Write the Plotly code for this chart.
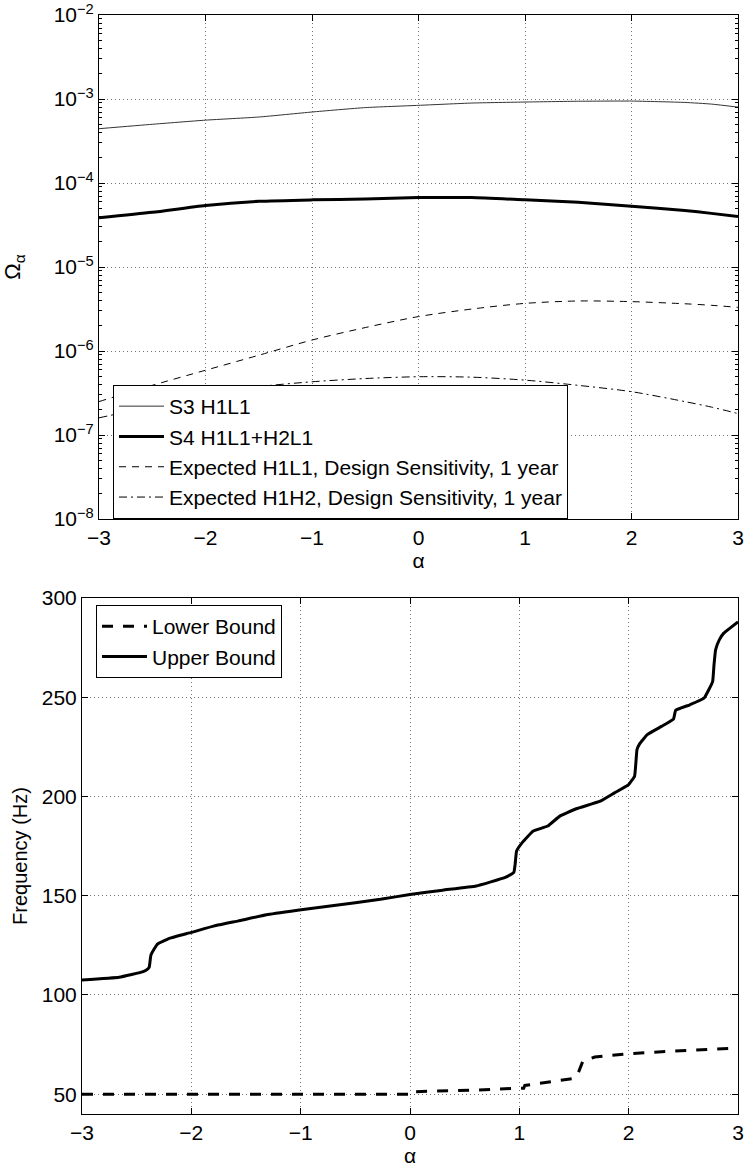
import plotly.graph_objects as go

# ---------------- data ----------------
alpha_top = [-3, -2.5, -2, -1.5, -1, -0.5, 0, 0.5, 1, 1.5, 2, 2.5, 2.75, 3]
s3_h1l1 = [4.43e-4, 5.0e-4, 5.6e-4, 6.1e-4, 7.0e-4, 7.9e-4, 8.4e-4, 8.95e-4,
           9.2e-4, 9.4e-4, 9.45e-4, 9.1e-4, 8.7e-4, 8.0e-4]
s4_h1l1_h2l1 = [3.86e-5, 4.48e-5, 5.4e-5, 6.05e-5, 6.3e-5, 6.45e-5, 6.7e-5,
                6.7e-5, 6.3e-5, 5.9e-5, 5.3e-5, 4.7e-5, 4.35e-5, 3.98e-5]
exp_h1l1 = [2.5e-7, 3.9e-7, 5.9e-7, 8.9e-7, 1.35e-6, 1.9e-6, 2.57e-6, 3.16e-6,
            3.69e-6, 3.94e-6, 3.87e-6, 3.65e-6, 3.5e-6, 3.31e-6]
exp_h1h2 = [1.6e-7, 2.2e-7, 3.0e-7, 3.76e-7, 4.3e-7, 4.7e-7, 4.94e-7, 4.88e-7,
            4.5e-7, 3.9e-7, 3.28e-7, 2.5e-7, 2.15e-7, 1.8e-7]

upper_alpha = [-3, -2.66, -2.44, -2.40, -2.385, -2.37, -2.34, -2.31, -2.2, -2.0,
               -1.79, -1.57, -1.3, -0.96, -0.5, -0.27, 0.0, 0.3, 0.605, 0.866,
               0.93, 0.95, 0.962, 0.975, 1.03, 1.127, 1.26, 1.37, 1.52, 1.74,
               1.87, 2.0, 2.054, 2.066, 2.076, 2.1, 2.17, 2.30, 2.41, 2.43,
               2.56, 2.69, 2.768, 2.78, 2.795, 2.83, 2.87, 3.0]
upper_bound = [107.5, 108.9, 111.7, 113.0, 114.0, 120.0, 123.1, 125.6, 128.5, 131.5,
               134.8, 137.3, 140.5, 143.2, 146.5, 148.2, 150.6, 152.8, 154.9, 159.1,
               160.9, 161.8, 166.0, 172.5, 177.0, 182.6, 185.1, 190.1, 193.8, 197.6,
               201.8, 206.0, 210.2, 217.0, 223.6, 226.5, 231.2, 235.3, 239.0, 243.4,
               246.2, 249.6, 257.9, 266.0, 273.9, 279.0, 282.3, 288.0]

lower_alpha = [-3, 0.0, 0.005, 0.6, 1.0, 1.04, 1.05, 1.26, 1.48, 1.53, 1.56,
               1.58, 1.69, 2.0, 2.35, 3.0]
lower_bound = [50, 50, 51.2, 52, 53, 53, 54.4, 56.1, 57.8, 59.5, 64,
               66.5, 68.7, 70.4, 71.5, 73.2]

x_ticks = [-3, -2, -1, 0, 1, 2, 3]
x_ticktext = ["−3", "−2", "−1", "0", "1", "2", "3"]
omega_ticks = [1e-8, 1e-7, 1e-6, 1e-5, 1e-4, 1e-3, 1e-2]
omega_ticktext = ["10<sup>−8</sup>", "10<sup>−7</sup>", "10<sup>−6</sup>",
                  "10<sup>−5</sup>", "10<sup>−4</sup>", "10<sup>−3</sup>",
                  "10<sup>−2</sup>"]
freq_ticks = [50, 100, 150, 200, 250, 300]
freq_ticktext = ["50", "100", "150", "200", "250", "300"]

# ---------------- figure ----------------
W, H = 746, 1171
FONT = "Liberation Sans, Arial, Helvetica, sans-serif"
FS = 21
GRID = "rgba(0,0,0,0.55)"

fig = go.Figure()

fig.add_trace(go.Scatter(x=alpha_top, y=s3_h1l1, mode="lines", name="S3 H1L1",
                         line=dict(color="#333333", width=1, shape="spline", smoothing=0.5),
                         xaxis="x", yaxis="y", legend="legend"))
fig.add_trace(go.Scatter(x=alpha_top, y=s4_h1l1_h2l1, mode="lines", name="S4 H1L1+H2L1",
                         line=dict(color="black", width=3, shape="spline", smoothing=0.6),
                         xaxis="x", yaxis="y", legend="legend"))
fig.add_trace(go.Scatter(x=alpha_top, y=exp_h1l1, mode="lines",
                         name="Expected H1L1, Design Sensitivity, 1 year",
                         line=dict(color="black", width=1, dash="7px,6px", shape="spline", smoothing=0.8),
                         xaxis="x", yaxis="y", legend="legend"))
fig.add_trace(go.Scatter(x=alpha_top, y=exp_h1h2, mode="lines",
                         name="Expected H1H2, Design Sensitivity, 1 year",
                         line=dict(color="black", width=1, dash="8px,4px,2px,4px", shape="spline", smoothing=0.8),
                         xaxis="x", yaxis="y", legend="legend"))

fig.add_trace(go.Scatter(x=lower_alpha, y=lower_bound, mode="lines", name="Lower Bound",
                         line=dict(color="black", width=3, dash="11px,10px"),
                         xaxis="x2", yaxis="y2", legend="legend2"))
fig.add_trace(go.Scatter(x=upper_alpha, y=upper_bound, mode="lines", name="Upper Bound",
                         line=dict(color="black", width=3, shape="spline", smoothing=0.3),
                         xaxis="x2", yaxis="y2", legend="legend2"))

def xaxis_common(domain, anchor):
    return dict(domain=domain, anchor=anchor, range=[-3, 3],
                tickmode="array", tickvals=x_ticks, ticktext=x_ticktext,
                ticks="inside", ticklen=6, tickcolor="black",
                showline=True, linecolor="black", linewidth=1, mirror="ticks",
                showgrid=True, gridcolor=GRID, griddash="1px,3px", gridwidth=1,
                zeroline=False, automargin=False,
                tickfont=dict(family=FONT, size=FS, color="black"),
                title=dict(text="α", font=dict(family=FONT, size=FS, color="black"), standoff=2))

top_y = [1 - 519 / H, 1 - 15 / H]
bot_y = [1 - 1114 / H, 1 - 598 / H]

fig.update_layout(
    width=W, height=H,
    margin=dict(l=0, r=0, t=0, b=0),
    paper_bgcolor="white", plot_bgcolor="white",
    font=dict(family=FONT, size=FS, color="black"),
    xaxis=xaxis_common([99 / W, 738 / W], "y"),
    yaxis=dict(domain=top_y, anchor="x", type="log", range=[-8, -2],
               tickmode="array", tickvals=omega_ticks, ticktext=omega_ticktext,
               ticks="inside", ticklen=6, tickcolor="black",
               minor=dict(ticks="inside", ticklen=3, tickcolor="black", dtick="D1", showgrid=False),
               showline=True, linecolor="black", linewidth=1, mirror="ticks",
               showgrid=True, gridcolor=GRID, griddash="1px,3px", gridwidth=1,
               zeroline=False, automargin=False,
               tickfont=dict(family=FONT, size=FS, color="black"),
               title=dict(text="Ω<sub>α</sub>", font=dict(family=FONT, size=FS + 1, color="black"), standoff=32)),
    xaxis2=xaxis_common([82 / W, 738 / W], "y2"),
    yaxis2=dict(domain=bot_y, anchor="x2", range=[40, 300],
                tickmode="array", tickvals=freq_ticks, ticktext=freq_ticktext,
                ticks="inside", ticklen=6, tickcolor="black",
                showline=True, linecolor="black", linewidth=1, mirror="ticks",
                showgrid=True, gridcolor=GRID, griddash="1px,3px", gridwidth=1,
                zeroline=False, automargin=False,
                tickfont=dict(family=FONT, size=FS, color="black"),
                title=dict(text="Frequency (Hz)", font=dict(family=FONT, size=FS - 1, color="black"), standoff=8)),
    legend=dict(x=113 / W, y=1 - 385 / H, xanchor="left", yanchor="top",
                bgcolor="white", bordercolor="black", borderwidth=1, itemwidth=45,
                font=dict(family=FONT, size=FS, color="black"), tracegroupgap=0),
    legend2=dict(x=96 / W, y=1 - 605 / H, xanchor="left", yanchor="top",
                 bgcolor="white", bordercolor="black", borderwidth=1, itemwidth=45,
                 font=dict(family=FONT, size=FS, color="black"), tracegroupgap=0),
    showlegend=True,
)

fig.write_html("out.html")
